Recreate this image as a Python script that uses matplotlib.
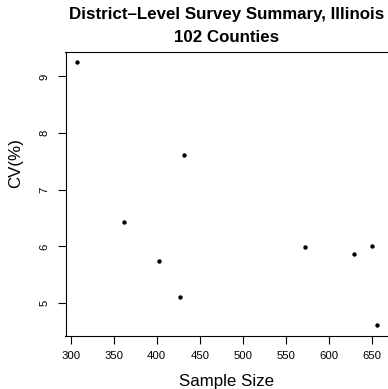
import matplotlib
matplotlib.use("Agg")
import matplotlib.pyplot as plt

# sample size vs coefficient of variation, one point per district
sample_size = [308, 362, 403, 427, 432, 572, 629, 650, 656]
cv_pct = [9.25, 6.43, 5.75, 5.10, 7.61, 5.99, 5.87, 6.00, 4.61]

x_ticks = [300, 350, 400, 450, 500, 550, 600, 650]
y_ticks = [5, 6, 7, 8, 9]

plt.rcParams['font.family'] = ['Liberation Sans', 'DejaVu Sans']

W, H = 388, 389
fig = plt.figure(figsize=(W / 100, H / 100), dpi=100)
# axes box in pixels: left 65.5, right 389.2, top 51.8, bottom 335.6
ax = fig.add_axes([65.5 / W, (H - 335.6) / H, (389.2 - 65.5) / W, (335.6 - 51.8) / H])

ax.scatter(sample_size, cv_pct, s=10, color='black', linewidths=0)

xr = max(sample_size) - min(sample_size)
yr = max(cv_pct) - min(cv_pct)
ax.set_xlim(min(sample_size) - 0.04 * xr, max(sample_size) + 0.04 * xr)
ax.set_ylim(min(cv_pct) - 0.04 * yr, max(cv_pct) + 0.04 * yr)

ax.set_xticks(x_ticks)
ax.set_yticks(y_ticks)
ax.set_yticklabels([str(v) for v in y_ticks], rotation=90, va='center')
ax.tick_params(axis='both', length=5.5, width=0.8, labelsize=8.2)
ax.tick_params(axis='x', pad=5.5)
ax.tick_params(axis='y', pad=6)
for sp in ax.spines.values():
    sp.set_linewidth(0.8)

fig.text(227 / W, 1 - 15 / H, "District\u2013Level Survey Summary, Illinois",
         ha='center', va='center', fontsize=12.2, fontweight='bold')
fig.text(227 / W, 1 - 37 / H, "102 Counties",
         ha='center', va='center', fontsize=12.2, fontweight='bold')
fig.text(227 / W, 1 - 381.5 / H, "Sample Size", ha='center', va='center', fontsize=12.2)
fig.text(15.5 / W, 1 - 163 / H, "CV(%)", ha='center', va='center', fontsize=12.2, rotation=90)

fig.savefig("out.png", dpi=100)
